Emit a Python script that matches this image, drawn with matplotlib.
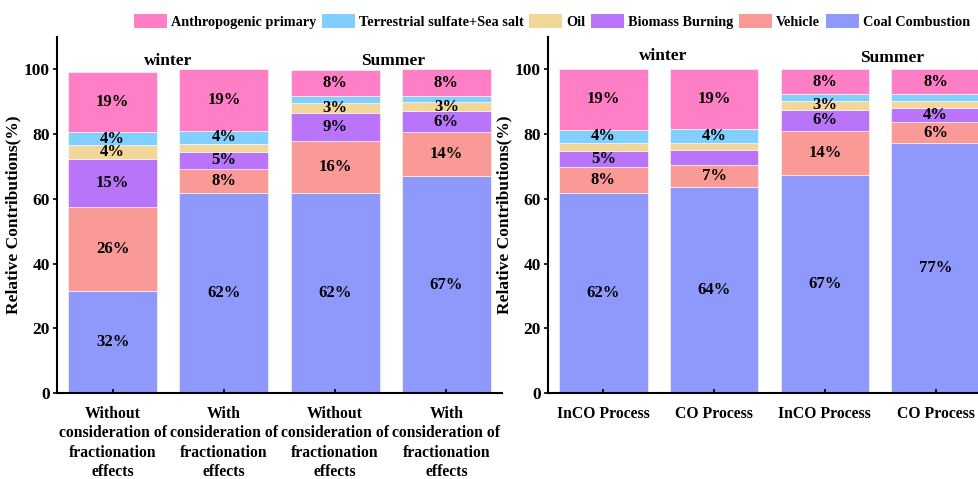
import matplotlib
matplotlib.use("Agg")
import matplotlib.pyplot as plt
from matplotlib.patches import Patch

plt.rcParams['font.family'] = ['Liberation Serif', 'DejaVu Serif']
plt.rcParams['font.weight'] = 'bold'

# Source categories, bottom to top of each stack
sources = ["Coal Combustion", "Vehicle", "Biomass Burning", "Oil",
           "Terrestrial sulfate+Sea salt", "Anthropogenic primary"]
colors = ["#8F99FC", "#F99A96", "#BA74F9", "#F3D79A", "#80CFFC", "#FF7FC6"]

# Left panel: with / without fractionation effects (%)
left_labels = ["Without\nconsideration of\nfractionation\neffects",
               "With\nconsideration of\nfractionation\neffects",
               "Without\nconsideration of\nfractionation\neffects",
               "With\nconsideration of\nfractionation\neffects"]
left_coal = [31.6, 61.7, 61.8, 67.0]
left_vehicle = [26.0, 7.6, 16.0, 13.6]
left_biomass = [14.8, 5.2, 8.8, 6.4]
left_oil = [4.1, 2.4, 3.1, 2.9]
left_terr = [4.1, 4.2, 2.1, 1.9]
left_anthro = [18.6, 18.9, 8.0, 8.2]

# Right panel: InCO / CO process (%)
right_labels = ["InCO Process", "CO Process", "InCO Process", "CO Process"]
right_coal = [61.9, 63.6, 67.3, 77.2]
right_vehicle = [7.8, 6.8, 13.8, 6.4]
right_biomass = [5.2, 4.6, 6.4, 4.4]
right_oil = [2.4, 2.2, 2.7, 2.2]
right_terr = [4.1, 4.3, 2.1, 2.1]
right_anthro = [18.6, 18.6, 7.7, 7.7]

# Segments left without a percentage label: (bar index, source index)
left_unlabeled = set()
right_unlabeled = {(1, 2)}

seasons = ["winter", "Summer"]

W, H = 979, 479
fig = plt.figure(figsize=(W / 100, H / 100), dpi=100)
bottom = (H - 393) / H
height = (393 - 37) / H
ax1 = fig.add_axes([57 / W, bottom, (502 - 57) / W, height])
ax2 = fig.add_axes([548 / W, bottom, (991 - 548) / W, height])


def draw(ax, series, labels, unlabeled, season_pos):
    x = list(range(len(labels)))
    base = [0.0] * len(labels)
    for si, (vals, col) in enumerate(zip(series, colors)):
        ax.bar(x, vals, width=0.8, bottom=base, color=col,
               edgecolor="white", linewidth=0.4)
        for i, v in enumerate(vals):
            txt = "{:.0f}%".format(v)
            if round(v) >= 3 and (i, si) not in unlabeled:
                ax.text(i, base[i] + v / 2, txt, ha="center", va="center",
                        fontsize=12, fontweight="bold", color="black")
        base = [b + v for b, v in zip(base, vals)]
    ax.set_xlim(-0.5, 3.5)
    ax.set_ylim(0, 110)
    ax.set_yticks([0, 20, 40, 60, 80, 100])
    ax.set_xticks(x)
    ax.set_xticklabels(labels, fontsize=11.3, fontweight="bold",
                       linespacing=1.3)
    ax.set_ylabel("Relative Contributions(%)", fontsize=12.5,
                  fontweight="bold", labelpad=2)
    for s in ("top", "right"):
        ax.spines[s].set_visible(False)
    for s in ("left", "bottom"):
        ax.spines[s].set_linewidth(1.5)
    ax.tick_params(axis="y", direction="out", length=3, width=1.2,
                   labelsize=12.5, pad=2)
    ax.tick_params(axis="x", direction="in", length=3, width=1.2, pad=9)
    for lab in ax.get_yticklabels():
        lab.set_fontweight("bold")
    for name, (xp, yp) in zip(seasons, season_pos):
        ax.text(xp, yp, name, ha="center", va="center", fontsize=12.5,
                fontweight="bold")


draw(ax1, [left_coal, left_vehicle, left_biomass, left_oil, left_terr,
           left_anthro], left_labels, left_unlabeled,
     [(0.5, 102.5), (2.52, 102.5)])
draw(ax2, [right_coal, right_vehicle, right_biomass, right_oil, right_terr,
           right_anthro], right_labels, right_unlabeled,
     [(0.54, 104), (2.61, 103.4)])

handles = [Patch(facecolor=c, edgecolor="none") for c in colors][::-1]
fig.legend(handles, sources[::-1], loc="upper left",
           bbox_to_anchor=(134 / W, 1 - 14 / H), ncol=6, frameon=False,
           prop={"weight": "bold", "size": 10.3},
           handlelength=2.3, handleheight=1.1, handletextpad=0.3,
           columnspacing=0.38, borderpad=0, borderaxespad=0)

fig.savefig("out.png", dpi=100)
